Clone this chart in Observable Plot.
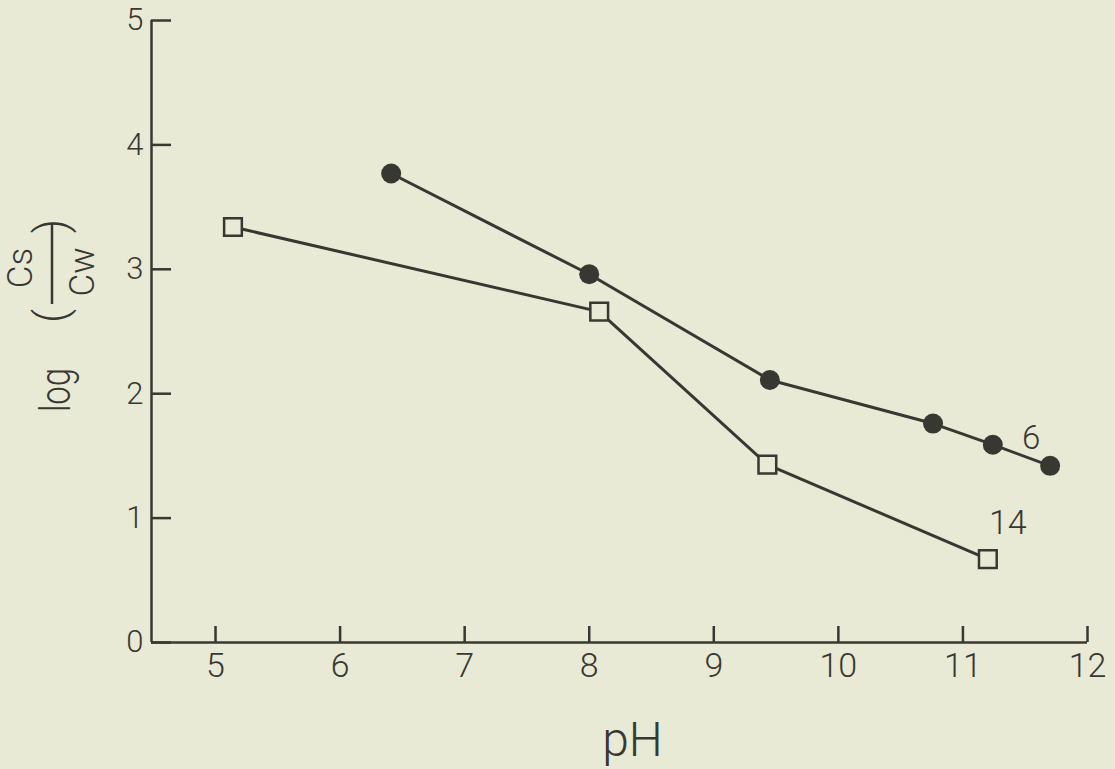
<!DOCTYPE html>
<html><head><meta charset="utf-8">
<script src="https://cdn.jsdelivr.net/npm/d3@7"></script>
<script src="https://cdn.jsdelivr.net/npm/@observablehq/plot@0.6"></script>
<style>
html,body{margin:0;padding:0;background:#e8ead6;}
#chart{width:1115px;height:769px;overflow:hidden;}
</style></head><body><div id="chart"></div>
<script>
// ---- data ----
const xTicks = [5, 6, 7, 8, 9, 10, 11, 12];
const yTicks = [0, 1, 2, 3, 4, 5];
const pH6 = [6.41, 8.00, 9.45, 10.76, 11.24, 11.70];
const log6 = [3.77, 2.96, 2.11, 1.76, 1.59, 1.42];
const pH14 = [5.14, 8.08, 9.43, 11.20];
const log14 = [3.34, 2.66, 1.43, 0.67];
const seriesNames = ["6", "14"];
const xDomain = [4.486, 12];
const yDomain = [0, 5];
const xTitle = "pH";

const ink = "#383833";
const paper = "#e8ead6";
const font = "Roboto, 'DejaVu Sans', sans-serif";

const s6 = pH6.map((x, i) => ({pH: x, v: log6[i], series: seriesNames[0]}));
const s14 = pH14.map((x, i) => ({pH: x, v: log14[i], series: seriesNames[1]}));

const plot = Plot.plot({
  width: 1115, height: 769,
  marginLeft: 151, marginRight: 28, marginTop: 20, marginBottom: 127,
  style: {background: paper, color: ink, fontFamily: font, fontWeight: 300},
  x: {domain: xDomain, label: null},
  y: {domain: yDomain, label: null},
  marks: [
    Plot.ruleY([yDomain[0]], {stroke: ink, strokeWidth: 2.5}),
    Plot.ruleX([xDomain[0]], {stroke: ink, strokeWidth: 2.5}),
    // inward tick marks
    Plot.ruleX(xTicks, {x: d => d, y1: yDomain[0], y2: yDomain[0], insetBottom: 16, stroke: ink, strokeWidth: 2.5}),
    Plot.ruleY(yTicks, {y: d => d, x1: xDomain[0], x2: xDomain[0], insetRight: -20, stroke: ink, strokeWidth: 2.5}),
    Plot.axisX(xTicks, {tickSize: 0, tickPadding: 10, fontSize: 34, tickFormat: d3.format("d"), label: null}),
    Plot.axisY(yTicks, {tickSize: 0, tickPadding: 8, fontSize: 31, tickFormat: d3.format("d"), label: null}),
    Plot.line(s6, {x: "pH", y: "v", stroke: ink, strokeWidth: 3}),
    Plot.line(s14, {x: "pH", y: "v", stroke: ink, strokeWidth: 3}),
    Plot.dot(s6, {x: "pH", y: "v", r: 10, fill: ink, stroke: null}),
    Plot.dot(s14, {x: "pH", y: "v", symbol: "square", r: 10, fill: paper, stroke: ink, strokeWidth: 2.5}),
    Plot.text([s6[s6.length - 1]], {x: "pH", y: "v", text: "series", dx: -19, dy: -27, fontSize: 33, fill: ink}),
    Plot.text([s14[s14.length - 1]], {x: "pH", y: "v", text: "series", dx: 20, dy: -36, fontSize: 34, fill: ink}),
    Plot.text([xTitle], {frameAnchor: "bottom", lineAnchor: "bottom", dx: 13, dy: 113, fontSize: 48, fill: ink})
  ]
});

document.getElementById("chart").appendChild(plot);

// rotated y-axis title: log(Cs/Cw)
const g = d3.select(plot).append("g")
  .attr("transform", "translate(70,390) rotate(-90)")
  .attr("fill", ink)
  .style("font-family", font)
  .style("font-weight", 300);
g.append("text").attr("x", 0).attr("y", 0).attr("font-size", 42)
  .attr("textLength", 44).attr("lengthAdjust", "spacingAndGlyphs").text("log");
g.append("text").attr("x", 74).attr("y", -4).attr("font-size", 44).text("(");
g.append("text").attr("x", 122).attr("y", -38).attr("font-size", 35).attr("text-anchor", "middle").text("Cs");
g.append("line").attr("x1", 86).attr("x2", 166).attr("y1", -18).attr("y2", -18)
  .attr("stroke", ink).attr("stroke-width", 2.5);
g.append("text").attr("x", 118).attr("y", 24).attr("font-size", 35).attr("text-anchor", "middle").text("Cw");
g.append("text").attr("x", 164).attr("y", -4).attr("font-size", 44).text(")");
</script>
</body></html>
